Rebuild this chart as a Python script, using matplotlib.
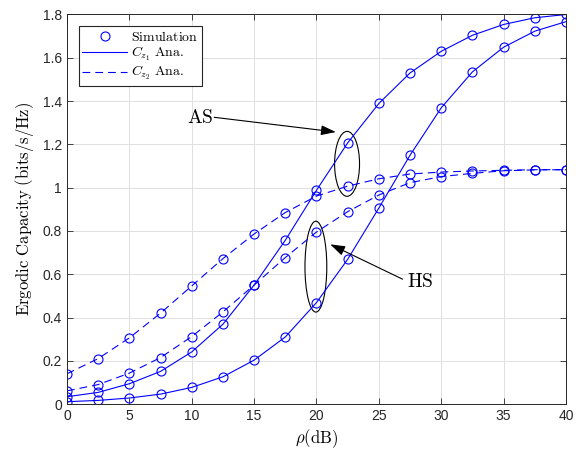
import matplotlib
matplotlib.use('Agg')
import matplotlib.pyplot as plt
from matplotlib.patches import Ellipse
import numpy as np

plt.rcParams['mathtext.fontset'] = 'cm'
plt.rcParams['font.family'] = ['Liberation Sans', 'DejaVu Sans']

# SNR in dB
rho = [0, 2.5, 5, 7.5, 10, 12.5, 15, 17.5, 20, 22.5, 25, 27.5, 30, 32.5, 35, 37.5, 40]

# C_z1 (solid) for AS and HS
cz1_as = [0.034, 0.054, 0.094, 0.151, 0.241, 0.369, 0.55, 0.757, 0.988, 1.207,
          1.389, 1.53, 1.63, 1.704, 1.754, 1.785, 1.80]
cz1_hs = [0.011, 0.017, 0.028, 0.046, 0.077, 0.126, 0.203, 0.31, 0.469, 0.669,
          0.906, 1.15, 1.369, 1.535, 1.649, 1.723, 1.767]
# C_z2 (dashed) for AS and HS
cz2_as = [0.14, 0.21, 0.306, 0.42, 0.546, 0.672, 0.786, 0.885, 0.961, 1.007,
          1.041, 1.063, 1.072, 1.077, 1.080, 1.083, 1.083]
cz2_hs = [0.061, 0.09, 0.143, 0.215, 0.312, 0.426, 0.55, 0.677, 0.795, 0.889,
          0.966, 1.023, 1.051, 1.066, 1.078, 1.082, 1.083]

blue = (0.0, 0.0, 1.0)

fig = plt.figure(figsize=(5.84, 4.53), dpi=100)
ax = fig.add_axes([0.1147, 0.108, 0.8545, 0.860])

for y in (cz1_as, cz1_hs):
    ax.plot(rho, y, '-', color=blue, lw=0.8)
for y in (cz2_as, cz2_hs):
    ax.plot(rho, y, '--', color=blue, lw=0.8, dashes=(7, 4.5))
for y in (cz1_as, cz1_hs, cz2_as, cz2_hs):
    ax.plot(rho, y, 'o', color=blue, mfc='none', ms=6.5, mew=0.8)

# legend handles
h_sim, = ax.plot([], [], 'o', color=blue, mfc='none', ms=6.5, mew=0.8)
h_c1, = ax.plot([], [], '-', color=blue, lw=0.8)
h_c2, = ax.plot([], [], '--', color=blue, lw=0.8, dashes=(7, 4.5))
leg = ax.legend([h_sim, h_c1, h_c2],
                [r'$\mathrm{Simulation}$', r'$C_{z_1}\ \mathrm{Ana.}$', r'$C_{z_2}\ \mathrm{Ana.}$'],
                loc='upper left', bbox_to_anchor=(0.024, 0.97), borderaxespad=0,
                fontsize=10, fancybox=False, edgecolor='0.15', framealpha=1,
                handlelength=3.2, handletextpad=0.3, borderpad=0.25, labelspacing=0.1)
leg.get_frame().set_linewidth(0.8)

# grouping ellipses and arrows
ax.add_patch(Ellipse((22.45, 1.11), 2.0, 0.30, fill=False, ec='k', lw=0.8))
ax.add_patch(Ellipse((19.95, 0.635), 1.75, 0.42, fill=False, ec='k', lw=0.8))
arrow = dict(arrowstyle='-|>,head_length=0.9,head_width=0.3', color='k', lw=0.8,
             shrinkA=0, shrinkB=0)
ax.annotate('', xy=(21.55, 1.257), xytext=(11.8, 1.325), arrowprops=arrow)
ax.annotate('', xy=(21.1, 0.738), xytext=(26.9, 0.577), arrowprops=arrow)
ax.text(10.7, 1.32, r'$\mathrm{AS}$', fontsize=14, ha='center', va='center')
ax.text(28.3, 0.565, r'$\mathrm{HS}$', fontsize=14, ha='center', va='center')

ax.set_xlim(0, 40)
ax.set_ylim(0, 1.8)
ax.set_xticks(np.arange(0, 41, 5))
ax.set_yticks(np.arange(0, 1.81, 0.2))
ax.set_yticklabels(['0', '0.2', '0.4', '0.6', '0.8', '1', '1.2', '1.4', '1.6', '1.8'])
ax.tick_params(direction='in', top=True, right=True, labelsize=10, length=4,
               width=0.6, color='0.15', labelcolor='0.15')
ax.grid(True, color='0.88', lw=0.7)
ax.set_axisbelow(True)
for s in ax.spines.values():
    s.set_color('0.15')
    s.set_linewidth(0.7)

ax.set_xlabel(r'$\rho(\mathrm{dB})$', fontsize=12, labelpad=3)
ax.set_ylabel(r'$\mathrm{Ergodic\ Capacity\ (bits/s/Hz)}$', fontsize=12, labelpad=5)

fig.savefig('out.png', dpi=100)
